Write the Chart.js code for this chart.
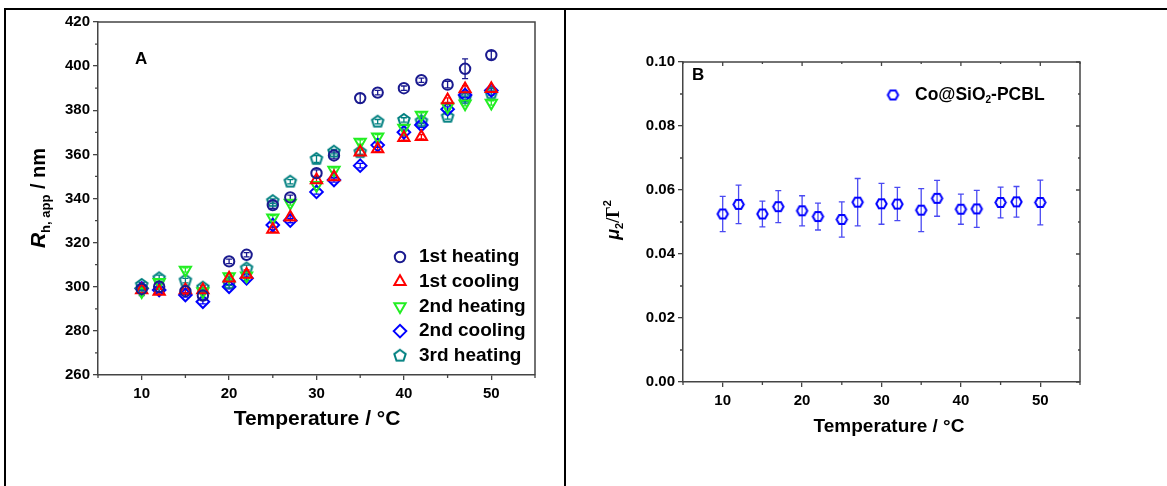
<!DOCTYPE html>
<html>
<head>
<meta charset="utf-8">
<script src="https://cdn.jsdelivr.net/npm/chart.js@4.4.1/dist/chart.umd.min.js"></script>
<style>
  body { margin: 0; background: #fff; }
  .line { position: absolute; background: #000; }
  .panel { position: absolute; }
</style>
</head>
<body>
<div class="line" style="left:4px; top:8px; width:1163px; height:2px;"></div>
<div class="line" style="left:4px; top:8px; width:2px; height:478px;"></div>
<div class="line" style="left:564px; top:8px; width:2px; height:478px;"></div>
<div class="panel" style="left:6px; top:10px; width:558px; height:476px;"><canvas id="chartA"></canvas></div>
<div class="panel" style="left:566px; top:10px; width:601px; height:476px;"><canvas id="chartB"></canvas></div>
<script>
const temps = [10, 12, 15, 17, 20, 22, 25, 27, 30, 32, 35, 37, 40, 42, 45, 47, 50];

// panel A, R_h,app (nm)
const heating1 = [299, 300, 298, 296, 311.5, 314.5, 337, 340.5, 351.5, 359.5, 385.5, 388, 390, 393.6, 391.6, 398.8, 405];
const cooling1 = [298.5, 297.8, 298.5, 298.5, 303.8, 305.6, 326, 331.5, 348.4, 349.8, 361, 362.4, 367.5, 368, 384.6, 389.6, 389.7];
const heating2 = [297.9, 302, 307.6, 297.9, 304.6, 305, 331.3, 338, 346, 352.9, 365.6, 368, 372, 377.8, 381.6, 383, 383.3];
const cooling2 = [299.2, 298.5, 296.3, 293.2, 300, 303.8, 328, 330, 343, 348.4, 354.9, 364.2, 370, 373.3, 380.5, 386.9, 389];
const heating3 = [300.8, 303.8, 302.8, 299.6, 301.6, 308.3, 338.8, 347.6, 357.9, 361.2, 361, 374.8, 375.6, 375, 377, 385.4, 387.7];

const errHeating1 = [3, 1, 1, 1, 1, 1, 1.5, 1, 1.5, 1.5, 2, 1, 1, 1, 1.5, 4.5, 1.8];
const errCooling1 = [1, 1, 2, 1, 1, 2, 1, 1, 1, 1, 1, 1, 1, 1, 1, 1.5, 1];
const errHeating2 = [1, 1, 1, 1, 1, 1, 1, 1, 1, 1, 1, 1, 1, 1, 1, 1, 1];
const errCooling2 = [1, 1, 1, 1, 1, 1, 1, 1, 1, 1, 1, 1, 1, 1, 1, 1, 1];
const errHeating3 = [1, 1.5, 1, 1, 1, 1.5, 1, 1, 1.5, 1, 1, 1, 1, 1, 1, 1, 1];

// panel B, mu2/Gamma^2
const mu2 = [0.0525, 0.0555, 0.0525, 0.0548, 0.0535, 0.0517, 0.0508, 0.0562, 0.0557, 0.0556, 0.0537, 0.0574, 0.0540, 0.0541, 0.0561, 0.0563, 0.0561];
const mu2Err = [0.0055, 0.006, 0.004, 0.005, 0.0047, 0.0042, 0.0055, 0.0074, 0.0064, 0.0052, 0.0067, 0.0056, 0.0047, 0.0058, 0.0048, 0.0048, 0.007];

const xTicks = [10, 20, 30, 40, 50];
const xMinor = [5, 15, 25, 35, 45, 55];
const yTicksA = [260, 280, 300, 320, 340, 360, 380, 400, 420];
const yMinorA = [270, 290, 310, 330, 350, 370, 390, 410];
const yTicksB = [0, 0.02, 0.04, 0.06, 0.08, 0.10];
const yMinorB = [0.01, 0.03, 0.05, 0.07, 0.09];

const FONT = '"Liberation Sans", Arial, sans-serif';
const AXIS = '#444';

function points(vals) {
    return temps.map((t, i) => ({ x: t, y: vals[i] }));
}

function polygonMarker(sides, r, color, startAngle) {
    const c = document.createElement('canvas');
    const size = Math.ceil(r * 2 + 4);
    c.width = size;
    c.height = size;
    const g = c.getContext('2d');
    g.strokeStyle = color;
    g.lineWidth = 2;
    g.beginPath();
    for (let k = 0; k < sides; k++) {
        const a = startAngle + k * 2 * Math.PI / sides;
        const px = size / 2 + r * Math.cos(a);
        const py = size / 2 + r * Math.sin(a);
        if (k === 0) g.moveTo(px, py); else g.lineTo(px, py);
    }
    g.closePath();
    g.stroke();
    return c;
}

const pentagon = polygonMarker(5, 6, '#008080', -Math.PI / 2);
const hexagon = polygonMarker(6, 5.2, '#0000FF', 0);

// error bars for datasets that carry an "errors" array
const errorBars = {
    id: 'errorBars',
    beforeDatasetsDraw(chart) {
        const ctx = chart.ctx;
        const ys = chart.scales.y;
        chart.data.datasets.forEach((ds, i) => {
            if (!ds.errors) return;
            const meta = chart.getDatasetMeta(i);
            ctx.save();
            ctx.strokeStyle = ds.errorColor || ds.borderColor;
            ctx.lineWidth = 1.3;
            meta.data.forEach((pt, j) => {
                const v = ds.data[j].y;
                const e = ds.errors[j];
                const top = ys.getPixelForValue(v + e);
                const bot = ys.getPixelForValue(v - e);
                ctx.beginPath();
                ctx.moveTo(pt.x, top); ctx.lineTo(pt.x, bot);
                ctx.moveTo(pt.x - 3, top); ctx.lineTo(pt.x + 3, top);
                ctx.moveTo(pt.x - 3, bot); ctx.lineTo(pt.x + 3, bot);
                ctx.stroke();
            });
            ctx.restore();
        });
    }
};

// frame, minor ticks, titles, legend
const decorations = {
    id: 'decorations',
    afterDraw(chart, args, opts) {
        const ctx = chart.ctx;
        const a = chart.chartArea;
        const xs = chart.scales.x, ys = chart.scales.y;
        ctx.save();
        ctx.strokeStyle = AXIS;
        ctx.lineWidth = 1.5;
        ctx.beginPath();
        ctx.moveTo(a.left, a.top); ctx.lineTo(a.right, a.top); ctx.lineTo(a.right, a.bottom);
        ctx.stroke();

        ctx.lineWidth = 1.3;
        ctx.beginPath();
        opts.xMinor.forEach(v => {
            const px = xs.getPixelForValue(v);
            ctx.moveTo(px, a.bottom); ctx.lineTo(px, a.bottom + 3);
        });
        opts.yMinor.forEach(v => {
            const py = ys.getPixelForValue(v);
            ctx.moveTo(a.left, py); ctx.lineTo(a.left - 3, py);
        });
        if (opts.mirror) {
            xTicks.forEach(v => {
                const px = xs.getPixelForValue(v);
                ctx.moveTo(px, a.top); ctx.lineTo(px, a.top + 4);
            });
            opts.xMinor.forEach(v => {
                const px = xs.getPixelForValue(v);
                ctx.moveTo(px, a.top); ctx.lineTo(px, a.top + 2);
            });
            opts.yTicks.forEach(v => {
                const py = ys.getPixelForValue(v);
                ctx.moveTo(a.right, py); ctx.lineTo(a.right - 4, py);
            });
            opts.yMinor.forEach(v => {
                const py = ys.getPixelForValue(v);
                ctx.moveTo(a.right, py); ctx.lineTo(a.right - 2, py);
            });
        }
        ctx.stroke();

        ctx.fillStyle = '#000';
        ctx.textBaseline = 'middle';
        ctx.textAlign = 'left';
        ctx.font = 'bold 17px ' + FONT;
        ctx.fillText(opts.letter[0], opts.letter[1], opts.letter[2]);

        ctx.textAlign = 'center';
        ctx.font = 'bold ' + opts.xTitle[3] + 'px ' + FONT;
        ctx.fillText(opts.xTitle[0], opts.xTitle[1], opts.xTitle[2]);

        // rotated y title from rich text pieces
        const parts = opts.yTitle.parts;
        let w = 0;
        parts.forEach(p => { ctx.font = p.font; w += ctx.measureText(p.text).width; });
        ctx.translate(opts.yTitle.x, opts.yTitle.y);
        ctx.rotate(-Math.PI / 2);
        ctx.textAlign = 'left';
        ctx.textBaseline = 'alphabetic';
        let cx = -w / 2;
        parts.forEach(p => {
            ctx.font = p.font;
            ctx.fillText(p.text, cx, 7 + (p.dy || 0));
            cx += ctx.measureText(p.text).width;
        });
        ctx.setTransform(1, 0, 0, 1, 0, 0);
        ctx.restore();

        // legend
        ctx.save();
        opts.legend.items.forEach((it, i) => {
            const ds = chart.data.datasets[it.ds];
            const y = opts.legend.y + i * opts.legend.step;
            ctx.strokeStyle = ds.borderColor;
            ctx.fillStyle = 'rgba(0,0,0,0)';
            ctx.lineWidth = ds.borderWidth;
            Chart.helpers.drawPoint(ctx, {
                pointStyle: ds.pointStyle,
                radius: ds.pointRadius,
                rotation: ds.rotation || 0,
                borderWidth: ds.borderWidth
            }, opts.legend.x, y);
            ctx.fillStyle = '#000';
            ctx.textBaseline = 'middle';
            ctx.textAlign = 'left';
            let tx = opts.legend.x + opts.legend.gap;
            it.parts.forEach(p => {
                ctx.font = p.font;
                ctx.fillText(p.text, tx, y + (p.dy || 0));
                tx += ctx.measureText(p.text).width;
            });
        });
        ctx.restore();
    }
};

function scatterSet(label, vals, errs, color, style, radius, rotation) {
    return {
        label: label,
        data: points(vals),
        errors: errs,
        borderColor: color,
        backgroundColor: 'rgba(0,0,0,0)',
        pointStyle: style,
        pointRadius: radius,
        rotation: rotation || 0,
        borderWidth: 2
    };
}

function baseScales(yMin, yMax, yTicks, yWidth, xHeight, tickFont, yFmt) {
    return {
        x: {
            type: 'linear', min: 5, max: 55,
            afterBuildTicks: s => { s.ticks = xTicks.map(v => ({ value: v })); },
            afterFit: s => { s.height = xHeight; },
            grid: { display: true, drawOnChartArea: false, drawTicks: true, tickLength: 5, color: AXIS, lineWidth: 1.3 },
            border: { display: true, color: AXIS, width: 1.5 },
            ticks: { color: '#000', font: tickFont, padding: 5, maxRotation: 0, autoSkip: false }
        },
        y: {
            type: 'linear', min: yMin, max: yMax,
            afterBuildTicks: s => { s.ticks = yTicks.map(v => ({ value: v })); },
            afterFit: s => { s.width = yWidth; },
            grid: { display: true, drawOnChartArea: false, drawTicks: true, tickLength: 5, color: AXIS, lineWidth: 1.3 },
            border: { display: true, color: AXIS, width: 1.5 },
            ticks: { color: '#000', font: tickFont, padding: 3, autoSkip: false, callback: yFmt }
        }
    };
}

const boldBig = 'bold 19px ' + FONT;

new Chart(document.getElementById('chartA'), {
    type: 'scatter',
    data: {
        datasets: [
            scatterSet('1st heating', heating1, errHeating1, '#1a1a8f', 'circle', 5.2),
            scatterSet('1st cooling', cooling1, errCooling1, '#FF0000', 'triangle', 6.5),
            scatterSet('2nd heating', heating2, errHeating2, '#22EE22', 'triangle', 6.5, 180),
            scatterSet('2nd cooling', cooling2, errCooling2, '#0000FF', 'rectRot', 6.3),
            scatterSet('3rd heating', heating3, errHeating3, '#008080', pentagon, 6)
        ]
    },
    options: {
        responsive: true,
        maintainAspectRatio: false,
        animation: false,
        layout: { padding: { left: 0, top: 12, right: 29, bottom: 0 } },
        scales: baseScales(260, 420, yTicksA, 92, 111, { family: FONT, size: 15, weight: 'bold' }, v => v),
        plugins: {
            legend: { display: false },
            tooltip: { enabled: false },
            decorations: {
                xMinor: xMinor, yMinor: yMinorA, yTicks: yTicksA, mirror: false,
                letter: ['A', 129, 49.5],
                xTitle: ['Temperature / °C', 311, 409, 21],
                yTitle: {
                    x: 32, y: 188,
                    parts: [
                        { text: 'R', font: 'bold italic 21px ' + FONT },
                        { text: 'h, app', font: 'bold 13px ' + FONT, dy: 5 },
                        { text: ' / nm', font: 'bold 20px ' + FONT }
                    ]
                },
                legend: {
                    x: 394, y: 247, step: 24.7, gap: 19,
                    items: [
                        { ds: 0, parts: [{ text: '1st heating', font: boldBig }] },
                        { ds: 1, parts: [{ text: '1st cooling', font: boldBig }] },
                        { ds: 2, parts: [{ text: '2nd heating', font: boldBig }] },
                        { ds: 3, parts: [{ text: '2nd cooling', font: boldBig }] },
                        { ds: 4, parts: [{ text: '3rd heating', font: boldBig }] }
                    ]
                }
            }
        }
    },
    plugins: [errorBars, decorations]
});

const muSet = scatterSet('Co@SiO2-PCBL', mu2, mu2Err, '#0000FF', hexagon, 5);
muSet.errorColor = '#4a4af2';

new Chart(document.getElementById('chartB'), {
    type: 'scatter',
    data: { datasets: [muSet] },
    options: {
        responsive: true,
        maintainAspectRatio: false,
        animation: false,
        layout: { padding: { left: 0, top: 52, right: 87, bottom: 0 } },
        scales: baseScales(0, 0.1, yTicksB, 117, 104, { family: FONT, size: 15, weight: 'bold' }, v => v.toFixed(2)),
        plugins: {
            legend: { display: false },
            tooltip: { enabled: false },
            decorations: {
                xMinor: xMinor, yMinor: yMinorB, yTicks: yTicksB, mirror: true,
                letter: ['B', 126, 65.5],
                xTitle: ['Temperature / °C', 323, 417, 19],
                yTitle: {
                    x: 46, y: 210,
                    parts: [
                        { text: 'μ', font: 'bold italic 18px ' + FONT },
                        { text: '2', font: 'bold 11px ' + FONT, dy: 4 },
                        { text: '/Γ', font: 'bold 18px "Liberation Serif", "Times New Roman", serif' },
                        { text: '2', font: 'bold 11px ' + FONT, dy: -8 }
                    ]
                },
                legend: {
                    x: 327, y: 85, step: 0, gap: 22,
                    items: [
                        { ds: 0, parts: [
                            { text: 'Co@SiO', font: 'bold 17.5px ' + FONT },
                            { text: '2', font: 'bold 10px ' + FONT, dy: 5 },
                            { text: '-PCBL', font: 'bold 17.5px ' + FONT }
                        ] }
                    ]
                }
            }
        }
    },
    plugins: [errorBars, decorations]
});
</script>
</body>
</html>
